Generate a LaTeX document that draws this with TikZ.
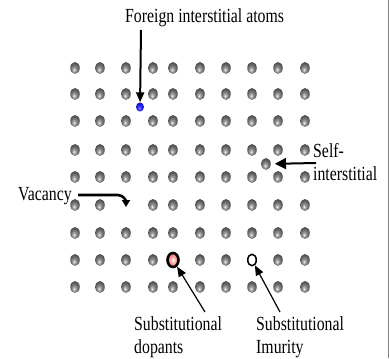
\documentclass[tikz,border=0pt]{standalone}
\usepackage{fontspec}
\setmainfont{Liberation Serif}[FakeStretch=0.79]
\usetikzlibrary{arrows.meta,shapes.geometric}
% shaded balls for the lattice
\pgfdeclareradialshading{atomball}{\pgfpoint{-6bp}{-8bp}}{%
  color(0bp)=(white); color(5bp)=(gray!55); color(14bp)=(gray); color(28bp)=(black!72); color(50bp)=(black!75)}
\pgfdeclareradialshading{blueball}{\pgfpoint{-5bp}{-6bp}}{%
  color(0bp)=(white!60!blue); color(10bp)=(blue!80); color(30bp)=(blue!75!black); color(50bp)=(blue!60!black)}
\pgfdeclareradialshading{redball}{\pgfpoint{0bp}{0bp}}{%
  color(0bp)=(white); color(12bp)=(red!35); color(30bp)=(red!65); color(50bp)=(red!80!black)}
\begin{document}
\begin{tikzpicture}[x=1pt, y=-1pt, font=\fontsize{20}{23}\selectfont, line join=round,
    atom/.style={ellipse, inner sep=0pt, minimum width=9.5pt, minimum height=12pt, shading=atomball},
    blueatom/.style={atom, minimum width=8pt, minimum height=9pt, shading=blueball},
    dopant/.style={ellipse, inner sep=0pt, minimum width=11pt, minimum height=14pt, draw, line width=2.6pt, shading=redball},
    impurity/.style={ellipse, inner sep=0pt, minimum width=8.5pt, minimum height=11.5pt, draw, line width=1.5pt, fill=white},
    tag/.style={inner sep=0pt, anchor=base west, align=left},
    pointer/.style={-{Triangle[length=10pt,width=8pt]}, line width=2pt},
    thinpointer/.style={-{Triangle[length=10pt,width=8pt]}, line width=1.2pt}]
    \useasboundingbox (0,0) rectangle (390,358);
    \draw[gray, line width=1pt] (388.5,0) -- (388.5,358);
    % lattice, with one site left empty
    \foreach \y [count=\r] in {68,94,121,150,177,205,233,260,287}
        \foreach \x [count=\c] in {75,100,126,153,173,200,226,252,278,305}
            {\ifnum\r\c=63 \else \node[atom] (a\r-\c) at (\x,\y) {}; \fi}
    \coordinate (vac) at (126,207);
    % defects
    \node[blueatom] (blue) at (140,107) {};
    \node[atom] (self) at (266,164) {};
    \node[dopant] (dop) at (173,260) {};
    \node[impurity] (imp) at (252,260) {};
    % labels (base = last line)
    \node[tag] (ftag) at (125,23) {Foreign interstitial atoms};
    \node[tag] (stag) at (313,180) {Self-\\interstitial};
    \node[tag] (vtag) at (18,200) {Vacancy};
    \node[tag] (dtag) at (134,353) {Substitutional\\dopants};
    \node[tag] (itag) at (256,353) {Substitutional\\Imurity};
    \path
    (141,30) coordinate (ftail)
    (316,163) coordinate (stail)
    (78,195) coordinate (vtail)
    (205,312) coordinate (dtail)
    (280,312) coordinate (itail)
    ;
    \draw[pointer] (ftail) -- (blue);
    \draw[pointer, -{Triangle[length=11pt,width=11pt]}, shorten >=4pt] (stail) -- (self);
    \draw[line width=2.6pt, -{Triangle[length=7pt,width=8pt]}] (vtail) -- ++(40,0) to[out=0,in=90] (vac);
    \draw[thinpointer] (dtail) -- (dop);
    \draw[thinpointer] (itail) -- (imp);
\end{tikzpicture}
\end{document}
